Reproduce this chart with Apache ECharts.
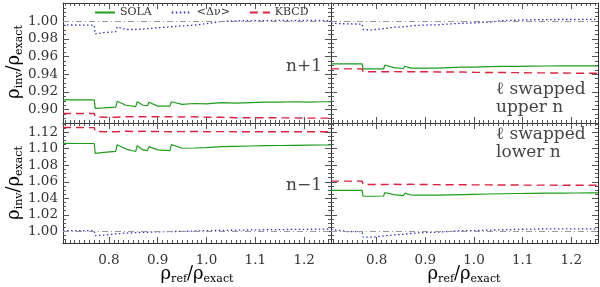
<!DOCTYPE html>
<html><head><meta charset="utf-8">
<script src="https://cdn.jsdelivr.net/npm/echarts@6/dist/echarts.min.js"></script>
<style>html,body{margin:0;padding:0;background:#fff}#c{width:600px;height:287px}</style>
</head><body><div id="c"></div>
<script>
// shared abscissa: rho_ref / rho_exact
const xs = [0.706,0.740,0.770,0.772,0.790,0.814,0.817,0.835,0.855,0.858,0.870,0.879,0.882,0.900,0.925,0.928,0.950,0.975,1.000,1.030,1.060,1.090,1.120,1.150,1.180,1.210,1.240,1.255];

// top-left panel (n+1)
const tlSola = [0.911,0.911,0.911,0.9015,0.902,0.903,0.9095,0.905,0.9035,0.909,0.905,0.9045,0.9085,0.904,0.904,0.909,0.906,0.907,0.9065,0.908,0.9075,0.908,0.9085,0.9085,0.909,0.9085,0.909,0.909];
const tlKbcd = [0.8958,0.8958,0.8957,0.892,0.8915,0.8915,0.8935,0.892,0.892,0.893,0.892,0.892,0.893,0.892,0.892,0.8928,0.8918,0.892,0.8915,0.8915,0.891,0.891,0.891,0.8908,0.8908,0.8905,0.8905,0.8905];
const tlDnu = [0.9957,0.9955,0.9953,0.9855,0.987,0.988,0.9935,0.9905,0.9905,0.992,0.991,0.9915,0.9925,0.9925,0.9935,0.9945,0.9945,0.9955,0.997,0.9995,1.0003,1.0005,1.0005,1.0007,1.0006,1.0007,1.0006,1.0006];

// top-right panel (l swapped, upper n)
const trSola = [0.9518,0.9518,0.9518,0.946,0.946,0.946,0.9505,0.9475,0.9465,0.949,0.947,0.947,0.9485,0.947,0.947,0.949,0.9475,0.948,0.948,0.9485,0.949,0.949,0.9492,0.9493,0.9494,0.9494,0.9495,0.9495];
const trKbcd = [0.9461,0.9461,0.946,0.943,0.9428,0.9428,0.9438,0.943,0.9428,0.9435,0.943,0.9428,0.9434,0.9428,0.9426,0.9432,0.9425,0.9425,0.9422,0.942,0.942,0.9418,0.9416,0.9415,0.9414,0.9412,0.9411,0.9411];
const trDnu = [0.9975,0.9968,0.9966,0.9905,0.990,0.9915,0.9935,0.993,0.9935,0.995,0.9945,0.995,0.9955,0.9955,0.9958,0.9965,0.9968,0.9975,0.998,0.9988,1.0005,1.001,1.0015,1.0017,1.0018,1.0018,1.0019,1.0019];

// bottom-left panel (n-1)
const blSola = [1.1063,1.1062,1.1062,1.0944,1.0955,1.0966,1.1048,1.0995,1.0966,1.1036,1.0985,1.0976,1.1024,1.0985,1.0976,1.1048,1.1005,1.1008,1.1012,1.1024,1.1028,1.1032,1.1036,1.1038,1.104,1.1042,1.1044,1.1044];
const blKbcd = [1.1255,1.1255,1.1254,1.1208,1.1205,1.1205,1.1222,1.121,1.1206,1.1218,1.121,1.1208,1.1216,1.1207,1.1205,1.1215,1.1206,1.1208,1.1205,1.1206,1.1205,1.1205,1.1204,1.1205,1.1204,1.1204,1.1204,1.1204];
const blDnu = [1.001,1.001,1.001,0.995,0.9955,0.997,0.999,0.998,0.9985,0.9995,0.999,0.999,0.9995,0.9995,0.9998,1.0,1.0,1.0005,1.001,1.0012,1.0015,1.0018,1.002,1.0022,1.0024,1.0026,1.0028,1.003];

// bottom-right panel (l swapped, lower n)
const brSola = [1.0497,1.0497,1.0496,1.0425,1.0425,1.0428,1.047,1.0445,1.0432,1.0462,1.044,1.0438,1.0455,1.044,1.0438,1.0458,1.0442,1.0445,1.0448,1.0452,1.0455,1.0458,1.046,1.0462,1.0463,1.0464,1.0465,1.0465];
const brKbcd = [1.0608,1.0608,1.0607,1.0569,1.0566,1.0566,1.0582,1.057,1.0566,1.0578,1.057,1.0568,1.0576,1.0567,1.0565,1.0574,1.0564,1.0565,1.0562,1.0562,1.0561,1.056,1.0559,1.0559,1.0558,1.0558,1.0557,1.0557];
const brDnu = [1.0025,0.9998,0.9997,0.993,0.993,0.9945,0.996,0.9958,0.9965,0.998,0.9975,0.998,0.9985,0.9988,0.999,0.9995,1.0,1.001,1.001,1.0015,1.002,1.0025,1.0028,1.003,1.003,1.003,1.003,1.003];

const seriesNames = ['SOLA', '<\u0394\u03bd>', 'KBCD'];
const xTicks = [0.8, 0.9, 1.0, 1.1, 1.2];
const yTicksTop = [0.90, 0.92, 0.94, 0.96, 0.98, 1.00];
const yTicksBottom = [1.00, 1.02, 1.04, 1.06, 1.08, 1.10, 1.12];
const refLevel = 1.0;
const xRange = [0.706, 1.255];
const yRangeTop = [0.885, 1.0204];
const yRangeBottom = [0.986, 1.131];

function steps(a, b, s) { const out = []; for (let v = Math.ceil(a / s - 1e-9) * s; v <= b + 1e-9; v += s) out.push(+v.toFixed(4)); return out; }
const xMinor = steps(xRange[0], xRange[1], 0.01);
const yMinorTop = steps(yRangeTop[0], yRangeTop[1], 0.005);
const yMinorBottom = steps(yRangeBottom[0], yRangeBottom[1], 0.005);

const FONT = '"DejaVu Serif", "Liberation Serif", serif';
const AX = '#333';
const panels = [
  { left: 63, top: 3, width: 268, yr: yRangeTop, yt: yTicksTop, ym: yMinorTop, xl: false, yl: true, d: [tlSola, tlDnu, tlKbcd] },
  { left: 331, top: 3, width: 267, yr: yRangeTop, yt: yTicksTop, ym: yMinorTop, xl: false, yl: false, d: [trSola, trDnu, trKbcd] },
  { left: 63, top: 123, width: 268, yr: yRangeBottom, yt: yTicksBottom, ym: yMinorBottom, xl: true, yl: true, d: [blSola, blDnu, blKbcd] },
  { left: 331, top: 123, width: 267, yr: yRangeBottom, yt: yTicksBottom, ym: yMinorBottom, xl: true, yl: false, d: [brSola, brDnu, brKbcd] }
];

const grid = [], xAxis = [], yAxis = [], series = [];
const styles = [
  { color: '#1e9c1e', width: 1.2, type: 'solid' },
  { color: '#3535b8', width: 1.3, type: [1.5, 2.5] },
  { color: '#dd2244', width: 1.4, type: [8, 5] }
];
panels.forEach((p, g) => {
  grid.push({ left: p.left, top: p.top, width: p.width, height: 120, containLabel: false });
  const mkX = (pos, major, labels) => ({
    type: 'value', gridIndex: g, position: pos, min: xRange[0], max: xRange[1],
    axisLine: { show: major, onZero: false, lineStyle: { color: AX, width: 1 } },
    axisTick: { show: true, inside: true, length: major ? 6 : 3, customValues: major ? xTicks : xMinor, lineStyle: { color: '#555', width: 1 } },
    axisLabel: { show: labels, customValues: xTicks, formatter: v => v.toFixed(1), margin: 10, fontFamily: FONT, fontSize: 13.5, color: '#333' },
    splitLine: { show: false }
  });
  const mkY = (pos, major, labels) => ({
    type: 'value', gridIndex: g, position: pos, min: p.yr[0], max: p.yr[1],
    axisLine: { show: major, onZero: false, lineStyle: { color: AX, width: 1 } },
    axisTick: { show: true, inside: true, length: major ? 6 : 3, customValues: major ? p.yt : p.ym, lineStyle: { color: '#555', width: 1 } },
    axisLabel: { show: labels, customValues: p.yt, formatter: v => v.toFixed(2), margin: 5, fontFamily: FONT, fontSize: 13.5, color: '#333' },
    splitLine: { show: false }
  });
  xAxis.push(mkX('bottom', true, p.xl), mkX('bottom', false, false), mkX('top', true, false), mkX('top', false, false));
  yAxis.push(mkY('left', true, p.yl), mkY('left', false, false), mkY('right', true, false), mkY('right', false, false));
  p.d.forEach((arr, k) => {
    const s = {
      type: 'line', name: seriesNames[k], xAxisIndex: 4 * g, yAxisIndex: 4 * g,
      data: xs.map((x, i) => [x, arr[i]]), symbol: 'none', silent: true, animation: false,
      lineStyle: { color: styles[k].color, width: styles[k].width, type: styles[k].type },
      itemStyle: { color: styles[k].color }, z: 3 + k
    };
    if (k === 1) {
      s.markLine = { silent: true, symbol: ['none', 'none'], label: { show: false }, animation: false,
        lineStyle: { color: '#9a9a9a', width: 1, type: [6, 3, 1, 3] }, data: [{ yAxis: refLevel }] };
    }
    series.push(s);
  });
});

const rich = {
  r: { fontFamily: FONT, fontSize: 18, lineHeight: 22, color: '#333' },
  s: { fontFamily: FONT, fontSize: 11, lineHeight: 11, verticalAlign: 'bottom', color: '#333' }
};
const yTitle = '{r|\u03c1}{s|inv}{r|/\u03c1}{s|exact}';
const xTitle = '{r|\u03c1}{s|ref}{r|/\u03c1}{s|exact}';
const txt = (x, y, text, align, vAlign, extra) => ({ type: 'text', x, y, silent: true,
  style: Object.assign({ text, fill: '#444', font: '17px ' + FONT, align, verticalAlign: vAlign }, extra || {}) });

const option = {
  animation: false,
  backgroundColor: '#fff',
  grid, xAxis, yAxis, series,
  legend: {
    data: seriesNames, left: 94, top: 7, padding: 0, itemWidth: 20, itemHeight: 10, itemGap: 19,
    selectedMode: false, itemStyle: { opacity: 0 },
    textStyle: { fontFamily: FONT, fontSize: 11, color: '#333' }
  },
  graphic: [
    { type: 'text', x: 14, y: 62, rotation: Math.PI / 2, silent: true, style: { text: yTitle, rich, align: 'center', verticalAlign: 'middle' } },
    { type: 'text', x: 14, y: 183, rotation: Math.PI / 2, silent: true, style: { text: yTitle, rich, align: 'center', verticalAlign: 'middle' } },
    { type: 'text', x: 197, y: 274, silent: true, style: { text: xTitle, rich, align: 'center', verticalAlign: 'middle' } },
    { type: 'text', x: 464, y: 274, silent: true, style: { text: xTitle, rich, align: 'center', verticalAlign: 'middle' } },
    txt(322, 67, 'n+1', 'right', 'middle'),
    txt(322, 186, 'n\u22121', 'right', 'middle'),
    txt(496, 81, '\u2113 swapped\nupper n', 'left', 'top', { lineHeight: 18 }),
    txt(496, 126, '\u2113 swapped\nlower n', 'left', 'top', { lineHeight: 18 })
  ]
};
const chart = echarts.init(document.getElementById('c'), null, { renderer: 'canvas' });
chart.setOption(option);
</script></body></html>
